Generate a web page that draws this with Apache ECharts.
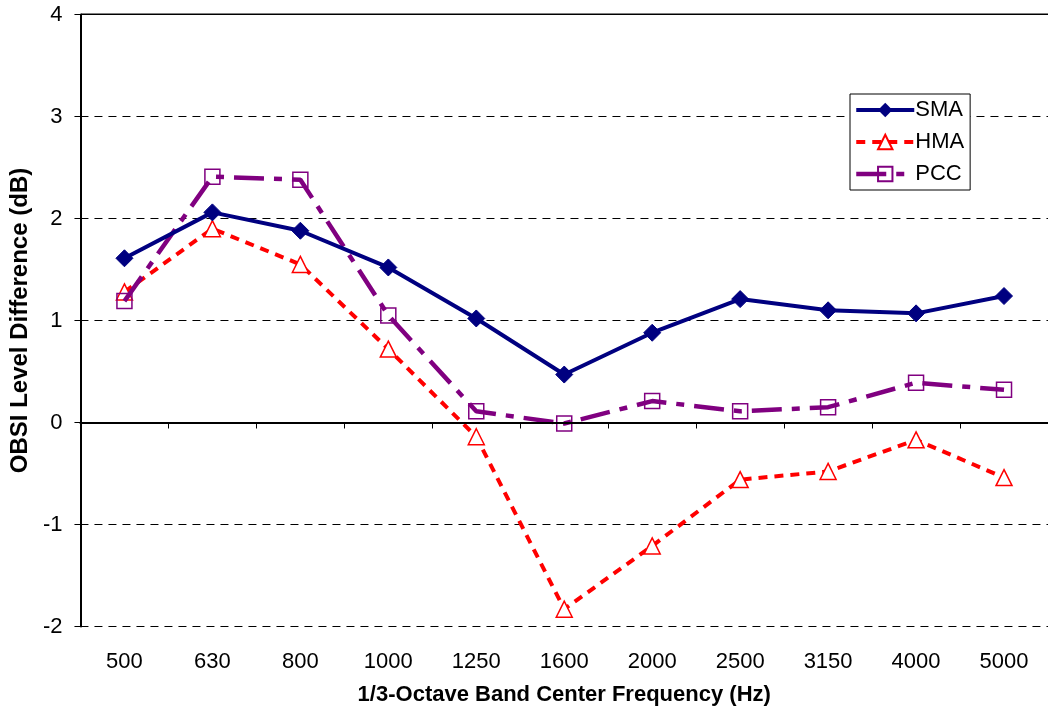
<!DOCTYPE html>
<html><head><meta charset="utf-8">
<script src="https://cdn.jsdelivr.net/npm/echarts@6/dist/echarts.min.js"></script>
<style>html,body{margin:0;padding:0;background:#fff;}#c{width:1048px;height:711px;}</style>
</head><body><div id="c"></div>
<script>
const categories = ['500','630','800','1000','1250','1600','2000','2500','3150','4000','5000'];
const smaValues = [1.61, 2.06, 1.88, 1.52, 1.02, 0.47, 0.88, 1.21, 1.10, 1.07, 1.24];
const hmaValues = [1.28, 1.90, 1.55, 0.72, -0.14, -1.83, -1.21, -0.56, -0.48, -0.17, -0.54];
const pccValues = [1.19, 2.41, 2.38, 1.05, 0.11, -0.01, 0.21, 0.11, 0.15, 0.39, 0.32];
const yTicks = [-2, -1, 0, 1, 2, 3, 4];

const chart = echarts.init(document.getElementById('c'));
const font = 'Liberation Sans, Arial, sans-serif';
chart.setOption({
  animation: false,
  backgroundColor: '#fff',
  textStyle: {fontFamily: font},
  grid: {left: 80, top: 14.5, width: 977, height: 612},
  legend: {
    orient: 'vertical', left: 850, top: 94,
    backgroundColor: '#fff', borderColor: '#000', borderWidth: 1,
    padding: [5, 6, 5, 4], itemGap: 10, itemWidth: 58, itemHeight: 18,
    textStyle: {fontFamily: font, fontSize: 22, color: '#000', padding: [0, 0, 0, -4]},
    data: [
      {name: 'SMA', lineStyle: {width: 4}},
      {name: 'HMA', lineStyle: {width: 4}},
      {name: 'PCC', lineStyle: {width: 4.5}}
    ]
  },
  xAxis: {
    type: 'category', data: categories, boundaryGap: true,
    name: '1/3-Octave Band Center Frequency (Hz)', nameLocation: 'middle', nameGap: 57,
    nameTextStyle: {fontSize: 22, fontWeight: 'bold', color: '#000', fontFamily: font, verticalAlign: 'top'},
    axisLine: {lineStyle: {color: '#000', width: 2}},
    axisTick: {show: true, length: 6, lineStyle: {color: '#000', width: 1}},
    axisLabel: {color: '#000', fontSize: 22, margin: 24, fontFamily: font},
    splitLine: {show: false}
  },
  yAxis: {
    type: 'value', min: yTicks[0], max: yTicks[yTicks.length - 1], interval: 1,
    name: 'OBSI Level Difference (dB)', nameLocation: 'middle', nameGap: 44,
    nameTextStyle: {fontSize: 24, fontWeight: 'bold', color: '#000', fontFamily: font},
    axisLine: {show: true, lineStyle: {color: '#000', width: 2}},
    axisTick: {show: true, length: 6, lineStyle: {color: '#000', width: 1}},
    axisLabel: {color: '#000', fontSize: 22, margin: 18, fontFamily: font},
    splitLine: {show: true, lineStyle: {color: '#000', width: 1, type: [8, 6]}}
  },
  graphic: [{
    type: 'rect', shape: {x: 81, y: 13.5, width: 967, height: 1.5}, style: {fill: '#000'}, z: 0
  }],
  series: [
    {
      name: 'SMA', type: 'line', data: smaValues, z: 5,
      symbol: 'diamond', symbolSize: 17,
      lineStyle: {color: '#000080', width: 4},
      itemStyle: {color: '#000080', borderColor: '#000080'},
      markLine: {
        silent: true, symbol: 'none', label: {show: false},
        lineStyle: {color: '#000', width: 2, type: 'solid'},
        data: [{yAxis: 0}]
      }
    },
    {
      name: 'HMA', type: 'line', data: hmaValues, z: 3,
      symbol: 'triangle', symbolSize: 16,
      lineStyle: {color: '#ff0000', width: 4, type: [9, 7]},
      itemStyle: {color: '#fff', borderColor: '#ff0000', borderWidth: 1.5}
    },
    {
      name: 'PCC', type: 'line', data: pccValues, z: 4,
      symbol: 'rect', symbolSize: 15,
      lineStyle: {color: '#800080', width: 4.5, type: [30, 10, 8, 10]},
      itemStyle: {color: 'rgba(255,255,255,0)', borderColor: '#800080', borderWidth: 1.5}
    }
  ]
});
</script></body></html>
